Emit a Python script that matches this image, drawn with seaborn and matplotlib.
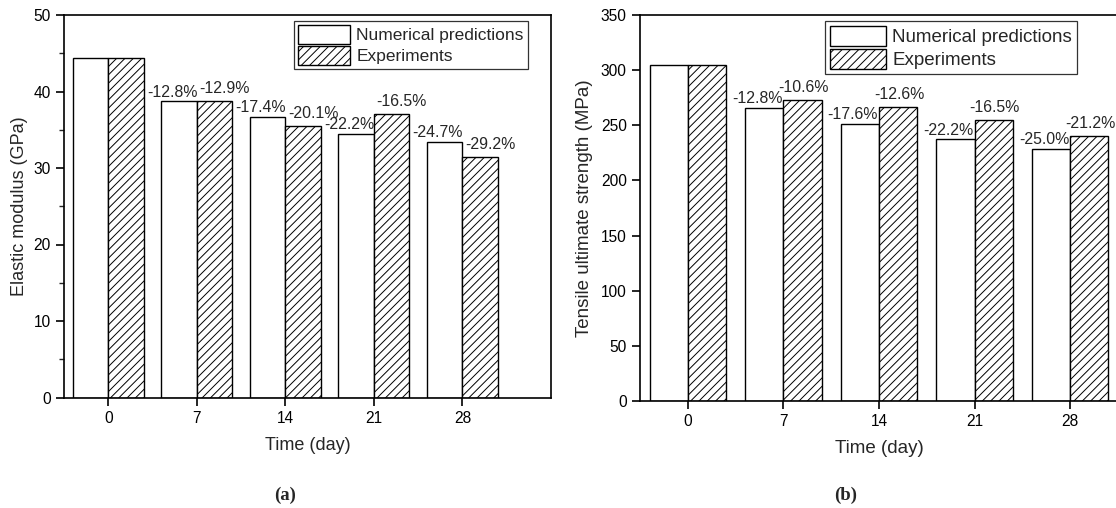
import numpy as np
import pandas as pd
import matplotlib
matplotlib.use("Agg")
import matplotlib.pyplot as plt
import seaborn as sns

# ---------------- data ----------------
days = [0, 7, 14, 21, 28]
series_names = ["Numerical predictions", "Experiments"]

modulus_num = [44.4, 38.7, 36.7, 34.5, 33.4]
modulus_exp = [44.4, 38.7, 35.5, 37.1, 31.4]
modulus_num_pct = ["", "-12.8%", "-17.4%", "-22.2%", "-24.7%"]
modulus_exp_pct = ["", "-12.9%", "-20.1%", "-16.5%", "-29.2%"]

strength_num = [305.0, 266.0, 251.3, 237.3, 228.8]
strength_exp = [305.0, 272.7, 266.6, 254.7, 240.3]
strength_num_pct = ["", "-12.8%", "-17.6%", "-22.2%", "-25.0%"]
strength_exp_pct = ["", "-10.6%", "-12.6%", "-16.5%", "-21.2%"]

# ---------------- style ----------------
sns.set_style("ticks")
plt.rcParams["font.family"] = ["Liberation Sans", "DejaVu Sans"]
plt.rcParams["hatch.linewidth"] = 0.7
plt.rcParams["axes.linewidth"] = 1.2

W, H = 1116, 508
fig = plt.figure(figsize=(W / 100, H / 100), dpi=100)
PX = 72 / 100  # points per pixel


def make_df(num, exp):
    return pd.DataFrame({
        "Time": days * 2,
        "Value": list(num) + list(exp),
        "Series": [series_names[0]] * len(days) + [series_names[1]] * len(days),
    })


def panel(ax, num, exp, num_pct, exp_pct, ylim, ystep, minor, ylabel,
          xlim, legend_anchor, legend_fs, label_fs, exp_dx, ylabelpad):
    df = make_df(num, exp)
    sns.barplot(data=df, x="Time", y="Value", hue="Series", native_scale=True,
                palette=["white", "white"], edgecolor="black", linewidth=1.0,
                width=0.8, saturation=1, errorbar=None, ax=ax, legend=False)
    cont_num, cont_exp = ax.containers[0], ax.containers[1]
    for r in cont_exp:
        r.set_hatch("////")
    ax.set_xlim(*xlim)
    ax.set_ylim(*ylim)
    ax.set_xticks(days)
    ax.set_xticklabels([str(d) for d in days])
    ax.set_yticks(np.arange(ylim[0], ylim[1] + 1, ystep))
    if minor:
        ax.set_yticks(np.arange(ylim[0], ylim[1] + 1, ystep / 2), minor=True)
    ax.tick_params(axis="both", which="major", length=6, width=1.2,
                   direction="out", labelsize=11.2, colors="black")
    ax.tick_params(axis="y", which="minor", length=3.5, width=1.0, direction="out")
    for s in ax.spines.values():
        s.set_visible(True)
        s.set_color("black")
        s.set_linewidth(1.2)
    ax.set_xlabel("Time (day)", fontsize=label_fs, labelpad=8)
    ax.set_ylabel(ylabel, fontsize=label_fs, labelpad=ylabelpad)
    ax.grid(False)

    for rects, labels, dx, dy in ((cont_num, num_pct, -7, 4.5),
                                  (cont_exp, exp_pct, exp_dx, 8)):
        for r, t in zip(rects, labels):
            if not t:
                continue
            ax.annotate(t, xy=(r.get_x() + r.get_width() / 2, r.get_height()),
                        xytext=(dx * PX, dy * PX), textcoords="offset points",
                        ha="center", va="baseline", fontsize=11.4)

    leg = ax.legend([cont_num[0], cont_exp[0]], series_names,
                    loc="upper right", bbox_to_anchor=legend_anchor,
                    fontsize=legend_fs, frameon=True, fancybox=False,
                    handlelength=3.0, handleheight=1.25, handletextpad=0.35,
                    borderpad=0.25, labelspacing=0.15, borderaxespad=0)
    leg.get_frame().set_edgecolor("black")
    leg.get_frame().set_linewidth(0.9)


ax_a = fig.add_axes([64 / W, 1 - 397.5 / H, 487 / W, 382.5 / H])
panel(ax_a, modulus_num, modulus_exp, modulus_num_pct, modulus_exp_pct,
      (0, 50), 10, True, "Elastic modulus (GPa)", (-3.5, 35),
      (0.953, 0.984), 12.5, 13, 10, 4)

ax_b = fig.add_axes([640 / W, 1 - 401 / H, 478 / W, 386 / H])
panel(ax_b, strength_num, strength_exp, strength_num_pct, strength_exp_pct,
      (0, 350), 50, False, "Tensile ultimate strength (MPa)", (-3.5, 31.5),
      (0.914, 0.984), 13.5, 13.5, 1, 6)

fig.text(285 / W, 1 - 495 / H, "(a)", ha="center", va="center",
         fontsize=13.5, fontweight="bold", family=["Liberation Serif", "DejaVu Serif"])
fig.text(846 / W, 1 - 495 / H, "(b)", ha="center", va="center",
         fontsize=13.5, fontweight="bold", family=["Liberation Serif", "DejaVu Serif"])

fig.savefig("out.png", dpi=100)
